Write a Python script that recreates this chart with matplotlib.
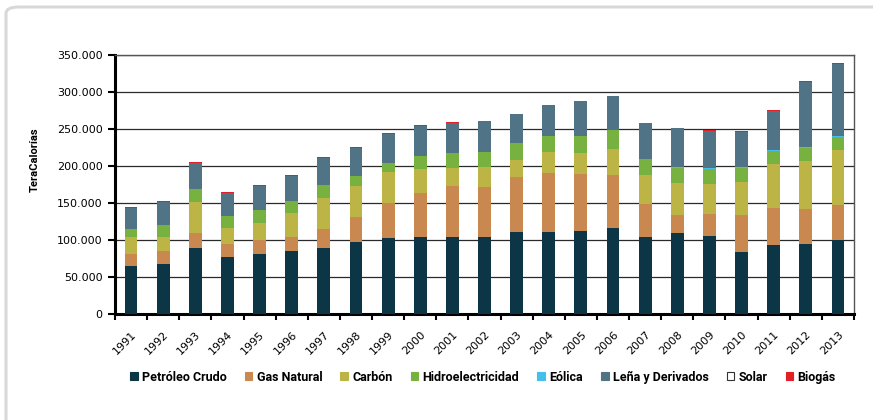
import numpy as np
import matplotlib
matplotlib.use('Agg')
import matplotlib.pyplot as plt
from matplotlib.patches import FancyBboxPatch, Patch
from matplotlib.ticker import FuncFormatter, MultipleLocator

# Datos (TeraCalorías)
anios = ['1991', '1992', '1993', '1994', '1995', '1996', '1997', '1998', '1999', '2000', '2001',
         '2002', '2003', '2004', '2005', '2006', '2007', '2008', '2009', '2010', '2011', '2012', '2013']
petroleo = [65100, 67800, 89400, 77200, 81300, 85300, 89400, 97400, 102800, 104200, 104200,
            104200, 110900, 110900, 112300, 116300, 104200, 109600, 105500, 84000, 93400, 94700, 100100]
gas_natural = [16200, 17500, 20200, 17500, 18800, 18900, 25600, 33700, 47200, 59300, 68700,
               67400, 74100, 79500, 76800, 71400, 44500, 24200, 29700, 49800, 49900, 47200, 47200]
carbon = [22900, 18900, 41700, 21600, 22900, 32300, 41700, 41800, 41800, 32300, 24300,
          26900, 23000, 28300, 28300, 35100, 39000, 43200, 40400, 44500, 59300, 64700, 74100]
hidro = [10800, 16200, 17600, 16200, 17600, 16200, 17600, 13500, 12100, 17500, 20200,
         20200, 22900, 21600, 22900, 25600, 21600, 20200, 20200, 18900, 17500, 17500, 17500]
eolica = [0, 0, 0, 0, 0, 0, 0, 0, 0, 0, 0,
          0, 0, 0, 0, 0, 0, 1000, 1300, 1600, 1300, 1400, 1400]
lena = [28700, 30900, 35000, 31000, 32300, 33700, 36300, 37700, 39100, 40500, 40400,
        41800, 39000, 41800, 47200, 45800, 48500, 53100, 50000, 46900, 52600, 87600, 97000]
solar = [0] * 23
biogas = [1300, 1400, 1400, 1300, 1400, 1300, 1400, 1400, 1300, 1300, 1400,
          0, 0, 0, 0, 0, 0, 0, 1800, 1300, 1300, 1300, 1400]

series = [
    ('Petróleo Crudo', petroleo, '#0C3645'),
    ('Gas Natural', gas_natural, '#C98850'),
    ('Carbón', carbon, '#BDB446'),
    ('Hidroelectricidad', hidro, '#77B13F'),
    ('Eólica', eolica, '#44BFE9'),
    ('Leña y Derivados', lena, '#517386'),
    ('Solar', solar, '#FFFFFF'),
    ('Biogás', biogas, '#E31E26'),
]

fuente_cond = ['Roboto', 'DejaVu Sans']

fig = plt.figure(figsize=(8.73, 4.2), dpi=100)

# marco redondeado de fondo
marco = FancyBboxPatch((6 / 873, -0.2), 1.2, 1.2 - 7 / 420,
                       boxstyle='round,pad=0,rounding_size=0.015',
                       transform=fig.transFigure, facecolor='white',
                       edgecolor='#D8D8D8', linewidth=2.2, zorder=-5)
fig.patches.append(marco)

ax = fig.add_axes([115 / 873, 1 - 314.3 / 420, (854 - 115) / 873, (314.3 - 55) / 420])
ax.set_facecolor('none')
ax.set_zorder(2)

x = np.arange(len(anios))
base = np.zeros(len(anios))
for nombre, valores, color in series:
    v = np.array(valores, dtype=float)
    ax.bar(x, v, bottom=base, width=0.4, color=color, edgecolor='none', zorder=3)
    base += v

ax.set_xlim(-0.5, len(anios) - 0.5)
ax.set_ylim(0, 350000)
ax.yaxis.set_major_locator(MultipleLocator(50000))
ax.yaxis.set_major_formatter(FuncFormatter(lambda v, p: '0' if v == 0 else f'{int(v):,}'.replace(',', '.')))
ax.grid(axis='y', color='#2A2A2A', linewidth=0.9, zorder=1)
ax.tick_params(axis='y', direction='out', length=5, width=1.5, labelsize=8, pad=4, colors='black')

ax.set_xticks(x)
ax.set_xticklabels(anios, rotation=45, ha='right', rotation_mode='anchor', fontsize=8)
ax.tick_params(axis='x', length=0, pad=11)
ax.set_xticks(np.arange(-0.5, len(anios)), minor=True)
ax.tick_params(axis='x', which='minor', direction='out', length=4, width=1.5)

for lado in ['left', 'bottom']:
    ax.spines[lado].set_linewidth(2.2)
for lado in ['right', 'top']:
    ax.spines[lado].set_linewidth(1.0)
    ax.spines[lado].set_color('#555555')

fig.text(35 / 873, 1 - 160 / 420, 'TeraCalorías', rotation=90, ha='center', va='center',
         fontsize=8, fontweight='bold', family=fuente_cond)

handles = [Patch(facecolor=c, edgecolor='#333333' if c == '#FFFFFF' else c, linewidth=0.8)
           for _, _, c in series]
labels = [n for n, _, _ in series]
fig.legend(handles, labels, loc='center', bbox_to_anchor=(483 / 873, 1 - 377 / 420), ncol=8,
           frameon=False, handlelength=0.6, handleheight=0.6, handletextpad=0.35,
           columnspacing=1.45, prop={'family': fuente_cond, 'weight': 'bold', 'size': 9})

fig.savefig('out.png', dpi=100)
